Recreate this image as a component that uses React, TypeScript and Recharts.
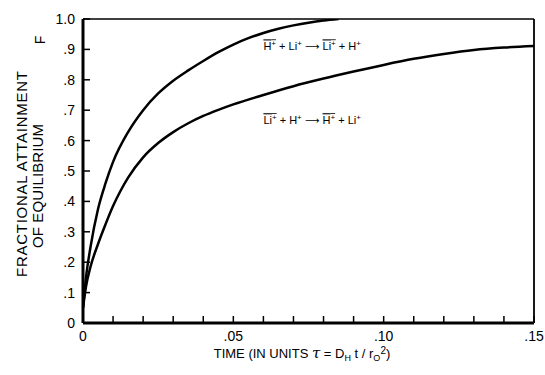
import React from "react";
import { LineChart, Line, XAxis, YAxis, ReferenceLine, ReferenceDot, Label } from "recharts";

// Upper curve: H+ (resin) + Li+ -> Li+ (resin) + H+
const upperTime = [0, 0.001, 0.0025, 0.005, 0.0075, 0.01, 0.015, 0.02, 0.025, 0.03, 0.035, 0.04, 0.045, 0.05, 0.055, 0.06, 0.065, 0.07, 0.075, 0.08, 0.085];
const upperF = [0.05, 0.15, 0.25, 0.375, 0.46, 0.53, 0.628, 0.7, 0.755, 0.797, 0.831, 0.862, 0.891, 0.916, 0.937, 0.954, 0.968, 0.979, 0.988, 0.995, 1.0];

// Lower curve: Li+ (resin) + H+ -> H+ (resin) + Li+
const lowerTime = [0, 0.001, 0.0025, 0.005, 0.0075, 0.01, 0.0125, 0.015, 0.02, 0.025, 0.03, 0.035, 0.04, 0.045, 0.05, 0.06, 0.07, 0.08, 0.09, 0.1, 0.11, 0.12, 0.13, 0.14, 0.15];
const lowerF = [0.05, 0.12, 0.185, 0.26, 0.325, 0.385, 0.435, 0.478, 0.545, 0.592, 0.628, 0.657, 0.681, 0.701, 0.719, 0.75, 0.779, 0.804, 0.827, 0.849, 0.869, 0.885, 0.898, 0.906, 0.911];

const xTicks = [0, 0.01, 0.02, 0.03, 0.04, 0.05, 0.06, 0.07, 0.08, 0.09, 0.1, 0.11, 0.12, 0.13, 0.14, 0.15];
const xTickValues = [0, 0.05, 0.1, 0.15];
const xTickLabels = ["0", ".05", ".10", ".15"];
const yTicks = [0, 0.1, 0.2, 0.3, 0.4, 0.5, 0.6, 0.7, 0.8, 0.9, 1.0];
const yTickLabels = ["0", ".1", ".2", ".3", ".4", ".5", ".6", ".7", ".8", ".9", "1.0"];

const upperData = upperTime.map((t, i) => ({ t, f: upperF[i] }));
const lowerData = lowerTime.map((t, i) => ({ t, f: lowerF[i] }));

const FONT = "'Liberation Sans', Arial, sans-serif";

const XTick = (props: any) => {
  const { x, y, payload } = props;
  const idx = xTickValues.findIndex((v) => Math.abs(v - payload.value) < 1e-9);
  return (
    <g>
      <line x1={x} x2={x} y1={y} y2={y - 7} stroke="#000" strokeWidth={1.5} />
      {idx >= 0 && (
        <text x={x} y={y + 18} textAnchor="middle" fontFamily={FONT} fontSize={14} fill="#000">
          {xTickLabels[idx]}
        </text>
      )}
    </g>
  );
};

const YTick = (props: any) => {
  const { x, y, payload } = props;
  const idx = yTicks.findIndex((v) => Math.abs(v - payload.value) < 1e-9);
  return (
    <g>
      <line x1={x} x2={x + 7} y1={y} y2={y} stroke="#000" strokeWidth={1.5} />
      <text x={x - 8} y={y + 5} textAnchor="end" fontFamily={FONT} fontSize={14} fill="#000">
        {idx >= 0 ? yTickLabels[idx] : ""}
      </text>
    </g>
  );
};

const YTitle = () => (
  <g fontFamily={FONT} fill="#000">
    <text x={27} y={174} transform="rotate(-90 27 174)" textAnchor="middle" fontSize={15} textLength={206} lengthAdjust="spacing">
      FRACTIONAL  ATTAINMENT
    </text>
    <text x={43} y={186} transform="rotate(-90 43 186)" textAnchor="middle" fontSize={15} textLength={124} lengthAdjust="spacing">
      OF EQUILIBRIUM
    </text>
    <text x={45} y={40} transform="rotate(-90 45 40)" textAnchor="middle" fontSize={14}>
      F
    </text>
  </g>
);

const XTitle = () => (
  <text x={302} y={358} textAnchor="middle" fontFamily={FONT} fontSize={13} fill="#000">
    <tspan>TIME (IN UNITS  </tspan>
    <tspan fontFamily="'DejaVu Serif', serif" fontStyle="italic" fontSize={15}>τ</tspan>
    <tspan> = D</tspan>
    <tspan fontSize={9} dy={3}>H</tspan>
    <tspan dy={-3}> t / r</tspan>
    <tspan fontSize={9} dy={3}>O</tspan>
    <tspan fontSize={10} dy={-7}>2</tspan>
    <tspan dy={4}>)</tspan>
  </text>
);

const Sup = ({ children }: any) => (
  <tspan fontSize={8} dy={-4}>{children}</tspan>
);

const ARROW = "⟶";

const Label1 = (props: any) => {
  const { viewBox } = props;
  const x = viewBox.x;
  const y = viewBox.y + 4;
  return (
    <text x={x} y={y} fontFamily={FONT} fontSize={11} fill="#000">
      <tspan textDecoration="overline">H</tspan>
      <tspan fontSize={8} dy={-4} textDecoration="overline">+</tspan>
      <tspan dy={4}> + Li</tspan>
      <Sup>+</Sup>
      <tspan dy={4} fontFamily="'DejaVu Sans', sans-serif" fontSize={10}> {ARROW} </tspan>
      <tspan textDecoration="overline">Li</tspan>
      <tspan fontSize={8} dy={-4} textDecoration="overline">+</tspan>
      <tspan dy={4}> + H</tspan>
      <Sup>+</Sup>
    </text>
  );
};

const Label2 = (props: any) => {
  const { viewBox } = props;
  const x = viewBox.x;
  const y = viewBox.y + 4;
  return (
    <text x={x} y={y} fontFamily={FONT} fontSize={11} fill="#000">
      <tspan textDecoration="overline">Li</tspan>
      <tspan fontSize={8} dy={-4} textDecoration="overline">+</tspan>
      <tspan dy={4}> + H</tspan>
      <Sup>+</Sup>
      <tspan dy={4} fontFamily="'DejaVu Sans', sans-serif" fontSize={10}> {ARROW} </tspan>
      <tspan textDecoration="overline">H</tspan>
      <tspan fontSize={8} dy={-4} textDecoration="overline">+</tspan>
      <tspan dy={4}> + Li</tspan>
      <Sup>+</Sup>
    </text>
  );
};

export default function App() {
  return (
    <div style={{ position: "absolute", left: 0, top: 0, background: "#fff" }}>
      <LineChart width={545} height={375} data={upperData} margin={{ top: 19, right: 11, left: 0, bottom: 0 }}>
        <XAxis
          dataKey="t"
          type="number"
          domain={[0, 0.15]}
          ticks={xTicks}
          interval={0}
          height={52}
          tickSize={0}
          tickMargin={0}
          tick={<XTick />}
          tickLine={false}
          axisLine={{ stroke: "#000", strokeWidth: 3 }}
          allowDataOverflow
        >
          <Label content={<XTitle />} />
        </XAxis>
        <YAxis
          type="number"
          domain={[0, 1]}
          ticks={yTicks}
          interval={0}
          width={83}
          tickSize={0}
          tickMargin={0}
          tick={<YTick />}
          tickLine={false}
          axisLine={{ stroke: "#000", strokeWidth: 3 }}
          allowDataOverflow
        >
          <Label content={<YTitle />} />
        </YAxis>
        <ReferenceLine y={1} stroke="#000" strokeWidth={1.3} />
        <ReferenceLine x={0.15} stroke="#000" strokeWidth={1.8} />
        <Line data={upperData} dataKey="f" type="monotone" stroke="#000" strokeWidth={2.5} dot={false} isAnimationActive={false} />
        <Line data={lowerData} dataKey="f" type="monotone" stroke="#000" strokeWidth={2.5} dot={false} isAnimationActive={false} />
        <ReferenceDot x={0.06} y={0.91} r={0} fill="none" stroke="none" label={<Label1 />} />
        <ReferenceDot x={0.06} y={0.667} r={0} fill="none" stroke="none" label={<Label2 />} />
      </LineChart>
    </div>
  );
}
